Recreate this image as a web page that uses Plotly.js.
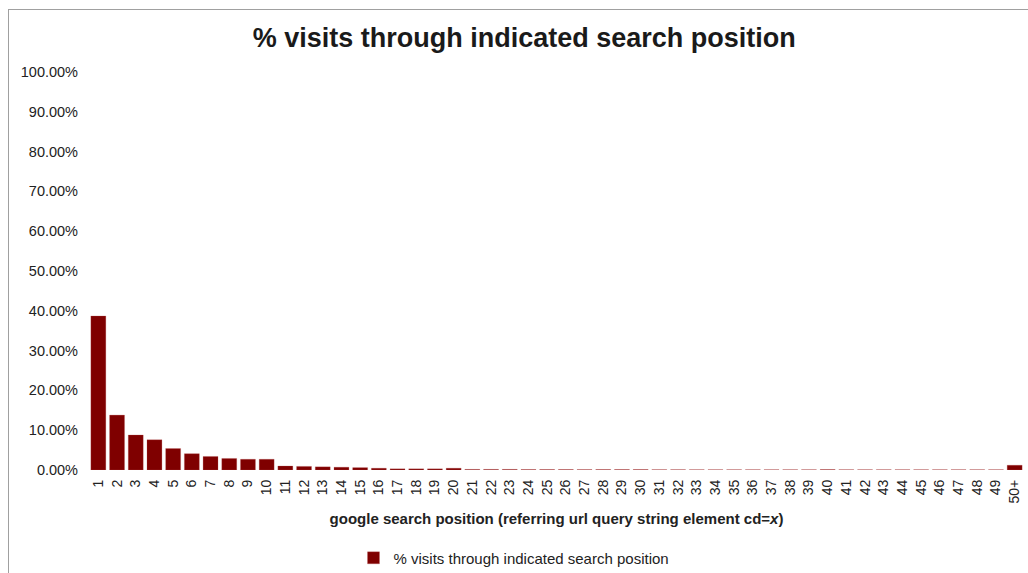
<!DOCTYPE html>
<html>
<head>
<meta charset="utf-8">
<script src="https://cdn.plot.ly/plotly-3.0.1.min.js"></script>
<style>
  html, body { margin: 0; padding: 0; background: #fff; overflow: hidden; }
  #frame { position: absolute; left: 8px; top: 9px; width: 1040px; height: 600px; border: 1px solid #a0a0a0; }
  #chart { position: absolute; left: 0; top: 0; width: 1028px; height: 573px; }
</style>
</head>
<body>
<div id="frame"></div>
<div id="chart"></div>
<script>
const positions = ['1','2','3','4','5','6','7','8','9','10','11','12','13','14','15','16','17','18','19','20',
  '21','22','23','24','25','26','27','28','29','30','31','32','33','34','35','36','37','38','39','40',
  '41','42','43','44','45','46','47','48','49','50+'];
const visitShare = [0.387, 0.138, 0.088, 0.076, 0.054, 0.041, 0.034, 0.029, 0.027, 0.027,
  0.010, 0.009, 0.008, 0.007, 0.006, 0.0045, 0.003, 0.003, 0.003, 0.0045,
  0.0015, 0.0015, 0.0015, 0.0012, 0.0012, 0.0012, 0.001, 0.0012, 0.0012, 0.0012,
  0.0008, 0.0008, 0.0007, 0.0007, 0.0007, 0.0007, 0.0007, 0.0007, 0.0007, 0.0012,
  0.0007, 0.0007, 0.0007, 0.0007, 0.0007, 0.0007, 0.0007, 0.0007, 0.0007, 0.012];
const seriesName = '% visits through indicated search position';

const trace = {
  type: 'bar',
  x: positions,
  y: visitShare,
  name: seriesName,
  marker: { color: '#7f0000', line: { color: 'rgba(190,90,90,0.5)', width: 0.5 } },
  showlegend: true
};

const layout = {
  width: 1028, height: 573,
  paper_bgcolor: 'rgba(0,0,0,0)',
  plot_bgcolor: 'rgba(0,0,0,0)',
  font: { family: 'Liberation Sans, Arial, sans-serif', color: '#222' },
  margin: { l: 89, r: 4, t: 72, b: 102.5 },
  bargap: 0.2,
  title: { text: '<b>% visits through indicated search position</b>', font: { size: 27, color: '#1a1a1a' },
    x: 0.51, xref: 'container', xanchor: 'center', y: 0.935, yanchor: 'middle' },
  xaxis: {
    type: 'category',
    tickangle: -90,
    tickfont: { size: 14, color: '#222' },
    showgrid: false, zeroline: false, showline: false, ticks: '',
    ticklabelstandoff: 6,
    title: { text: '<b>google search position (referring url query string element cd=<i>x</i>)</b>', font: { size: 15, color: '#222' }, standoff: 10 },
    automargin: false
  },
  yaxis: {
    range: [0, 1],
    dtick: 0.1,
    tickformat: '.2%',
    tickfont: { size: 14.5, color: '#222' },
    showgrid: false, zeroline: false, showline: false, ticks: '',
    ticklabelstandoff: 10,
    automargin: false
  },
  legend: { orientation: 'h', xref: 'container', yref: 'container', x: 0.5, xanchor: 'center', y: 0.026, yanchor: 'middle',
    font: { size: 15, color: '#222' } },
};

Plotly.newPlot('chart', [trace], layout, { displayModeBar: false, staticPlot: true });
</script>
</body>
</html>
